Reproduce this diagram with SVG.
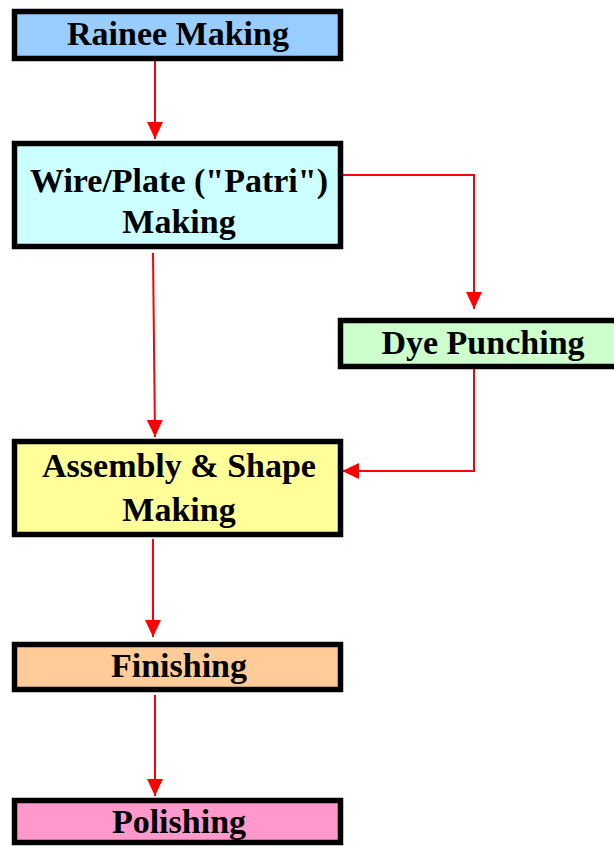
<svg xmlns="http://www.w3.org/2000/svg" width="614" height="846" viewBox="0 0 614 846">
<style>
.box{stroke:#000;stroke-width:5.5}
.lbl{font-family:"Liberation Serif","Times New Roman",serif;font-weight:bold;font-size:34px;fill:#000;text-anchor:middle}
.con{fill:none;stroke:#FF0000;stroke-width:2}
</style>
<defs>
<marker id="ah" markerUnits="userSpaceOnUse" markerWidth="18" markerHeight="18" viewBox="0 0 18 18" refX="17" refY="9" orient="auto">
<path d="M0,1 L17,9 L0,17 Z" fill="#FF0000"/>
</marker>
</defs>
<rect width="614" height="846" fill="#fff"/>
<g id="connectors">
<path class="con" d="M155,61 L155,139" marker-end="url(#ah)"/>
<path class="con" d="M343,175 L474,175 L474,309" marker-end="url(#ah)"/>
<path class="con" d="M153,253 L155,437" marker-end="url(#ah)"/>
<path class="con" d="M474,369 L474,471 L342,471" marker-end="url(#ah)"/>
<path class="con" d="M153,539 L153,637" marker-end="url(#ah)"/>
<path class="con" d="M155,695 L155,796" marker-end="url(#ah)"/>
</g>
<g id="rainee">
<rect class="box" x="14.5" y="11.5" width="326" height="47" fill="#99CCFF"/>
<text class="lbl" x="178" y="45">Rainee Making</text>
</g>
<g id="wire">
<rect class="box" x="14.5" y="143.5" width="326" height="103" fill="#CCFFFF"/>
<text class="lbl" x="179" y="192">Wire/Plate ("Patri")</text>
<text class="lbl" x="179" y="233">Making</text>
</g>
<g id="dye">
<rect class="box" x="340.5" y="320.5" width="290" height="46" fill="#CCFFCC"/>
<text class="lbl" x="483" y="354">Dye Punching</text>
</g>
<g id="assembly">
<rect class="box" x="14.5" y="441.5" width="326" height="93" fill="#FFFF99"/>
<text class="lbl" x="179" y="477">Assembly &amp; Shape</text>
<text class="lbl" x="179" y="521">Making</text>
</g>
<g id="finishing">
<rect class="box" x="14.5" y="644.5" width="326" height="45" fill="#FFCC99"/>
<text class="lbl" x="179" y="677">Finishing</text>
</g>
<g id="polishing">
<rect class="box" x="14.5" y="800.5" width="326" height="42" fill="#FF99CC"/>
<text class="lbl" x="179" y="833">Polishing</text>
</g>
</svg>
